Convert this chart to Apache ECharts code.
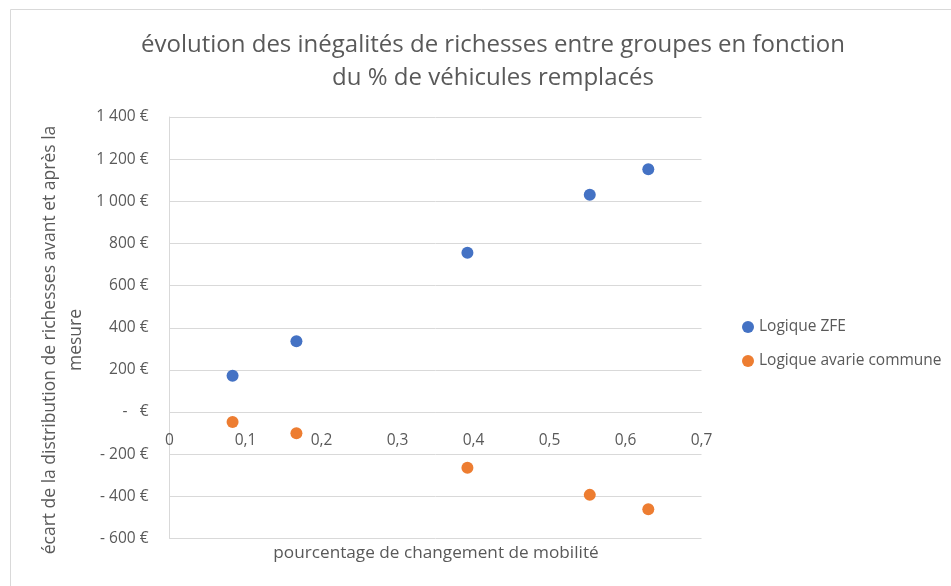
<!DOCTYPE html>
<html>
<head>
<meta charset="utf-8">
<script src="https://cdn.jsdelivr.net/npm/echarts@6/dist/echarts.min.js"></script>
<style>
  html, body { margin: 0; padding: 0; background: #fff; }
  #chart { width: 951px; height: 586px; }
</style>
</head>
<body>
<div id="chart"></div>
<script>
// données
var xValues = [0.083, 0.167, 0.392, 0.553, 0.630];
var zfeValues = [172, 336, 756, 1031, 1152];
var avarieValues = [-47, -101, -264, -393, -461];
var seriesNames = ['Logique ZFE', 'Logique avarie commune'];
var titleLines = ['évolution des inégalités de richesses entre groupes en fonction', 'du % de véhicules remplacés'];
var yAxisTitle = ['écart de la distribution de richesses avant et après la', 'mesure'];
var xAxisTitle = 'pourcentage de changement de mobilité';
var yMin = -600, yMax = 1400;

var grey = '#595959';
var lineGrey = '#d9d9d9';
var font = 'Open Sans';

var gridTop = 117, gridBottom = 47.5;
var plotH = 586 - gridTop - gridBottom;
// l'axe horizontal croise l'axe vertical à 0 €
var zeroOffset = -plotH * (0 - yMin) / (yMax - yMin);

function euro(v) {
    if (v === 0) return '-   €';
    var s = String(Math.abs(v)).replace(/\B(?=(\d{3})+(?!\d))/g, ' ');
    return (v < 0 ? '- ' : '') + s + ' €';
}

function pairs(xs, ys) {
    return xs.map(function (x, i) { return [x, ys[i]]; });
}

var chart = echarts.init(document.getElementById('chart'));
var option = {
    animation: false,
    textStyle: { fontFamily: font },
    color: ['#4472C4', '#ED7D31'],
    title: {
        text: titleLines.join('\n'),
        left: 488,
        top: 24,
        textAlign: 'center',
        textStyle: { fontFamily: font, fontSize: 24, fontWeight: 'normal', color: grey, lineHeight: 33 }
    },
    legend: {
        orient: 'vertical',
        left: 737,
        top: 311,
        itemGap: 12,
        itemWidth: 12,
        itemHeight: 12,
        icon: 'circle',
        data: seriesNames,
        textStyle: { fontFamily: font, fontSize: 15.5, color: grey, lineHeight: 22 }
    },
    grid: { left: 169.5, right: 249.5, top: gridTop, bottom: gridBottom, containLabel: false },
    xAxis: {
        type: 'value',
        min: 0,
        max: 0.7,
        interval: 0.1,
        position: 'bottom',
        offset: zeroOffset,
        axisLine: { show: true, onZero: false, lineStyle: { color: lineGrey, width: 1 } },
        axisTick: { show: false },
        splitLine: { show: false },
        axisLabel: {
            margin: 21,
            fontSize: 15.5,
            color: grey,
            fontFamily: font,
            formatter: function (v) { return String(Math.round(v * 10) / 10).replace('.', ','); }
        }
    },
    yAxis: {
        type: 'value',
        min: yMin,
        max: yMax,
        interval: 200,
        axisLine: { show: true, onZero: false, lineStyle: { color: lineGrey, width: 1 } },
        axisTick: { show: false },
        splitLine: { show: true, lineStyle: { color: lineGrey, width: 1 } },
        axisLabel: { margin: 21, fontSize: 15.5, color: grey, fontFamily: font, formatter: euro }
    },
    graphic: [
        {
            type: 'rect',
            shape: { x: 10.5, y: 9.5, width: 1000, height: 1000 },
            style: { fill: 'none', stroke: lineGrey, lineWidth: 1 },
            silent: true
        },
        {
            type: 'text',
            x: 63,
            y: 340,
            rotation: Math.PI / 2,
            style: {
                text: yAxisTitle.join('\n'),
                fill: grey,
                font: '17.5px "' + font + '"',
                lineHeight: 26,
                align: 'center',
                verticalAlign: 'middle'
            }
        },
        {
            type: 'text',
            x: 436,
            y: 553,
            style: {
                text: xAxisTitle,
                fill: grey,
                font: '17.2px "' + font + '"',
                align: 'center',
                verticalAlign: 'middle'
            }
        }
    ],
    series: [
        {
            name: seriesNames[0],
            type: 'scatter',
            symbolSize: 12,
            itemStyle: { opacity: 1 },
            data: pairs(xValues, zfeValues)
        },
        {
            name: seriesNames[1],
            type: 'scatter',
            symbolSize: 12,
            itemStyle: { opacity: 1 },
            data: pairs(xValues, avarieValues)
        }
    ]
};
chart.setOption(option);
</script>
</body>
</html>
